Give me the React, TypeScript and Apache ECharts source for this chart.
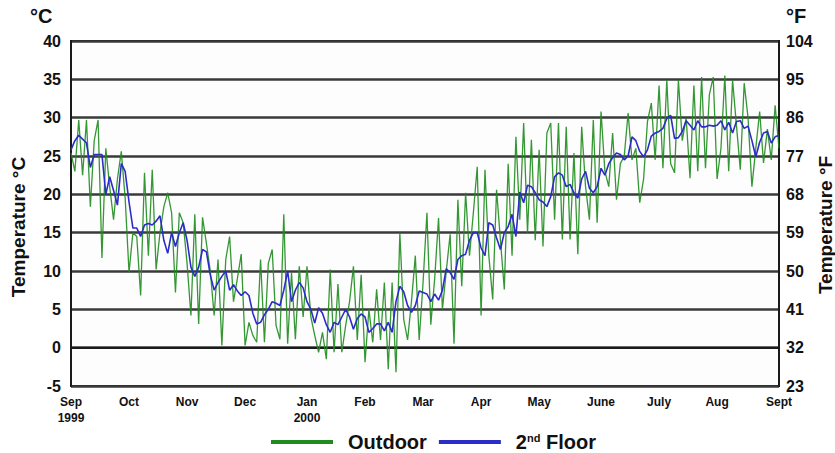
import React, { useEffect, useRef } from "react";
import * as echarts from "echarts";

// Month labels placed at the category index (2-day steps) where each month begins
const monthLabels: [number, string][] = [
  [0, "Sep\n1999"], [15, "Oct"], [30, "Nov"], [45, "Dec"], [61, "Jan\n2000"],
  [76, "Feb"], [91, "Mar"], [106, "Apr"], [121, "May"], [137, "June"],
  [152, "July"], [167, "Aug"], [183, "Sept"],
];

// Outdoor temperature (°C), every second day from 1 Sep 1999
const outdoor = [
  25.4, 23, 29.7, 22.5, 29.7, 18.4, 27, 29.7, 11.7, 26,
  21, 16.7, 22, 25.6, 19.5, 9.8, 15, 14.5, 6.8, 22.8,
  12, 23.2, 10.2, 15, 18.4, 20.2, 17.6, 7.2, 17.6, 16.3,
  11, 4.2, 17.4, 3.1, 17, 13.6, 10, 4.2, 11.5, 0.3,
  11.5, 14.5, 6, 9, 12.2, 0.3, 3.3, 1.6, 0.7, 11.5,
  0.7, 11, 12.8, 2.9, 1.1, 17.4, 0.5, 9.8, 1.1, 10.6,
  4, 10.6, 4, 1.6, -0.6, 2, -1.5, 10.2, -0.6, 8.3,
  -0.6, 2.9, 6, 10.6, 1, 9.5, -1.9, 5, 0.7, 7.6,
  1, 8.5, -2.8, 8.5, -3.2, 15, 3.7, 1, 6, 12,
  1, 8.5, 17.6, 3, 9, 16.9, 5, 10, 14.8, 0.5,
  19.3, 8, 20.2, 12, 17.6, 23.6, 4.2, 23.2, 12, 6.3,
  20.6, 14, 7.6, 24, 12, 27.5, 16.7, 29.3, 15, 27.1,
  14, 25.8, 13.2, 28, 29.3, 16.7, 29.3, 14.1, 28.8, 14.1,
  25.4, 12.2, 28.8, 21, 16.7, 29.7, 16.3, 30.8, 23, 21,
  28, 19.3, 24, 25, 30.6, 24.5, 26, 18.9, 22, 29.5,
  31.9, 24.5, 34.2, 23.4, 34.9, 24, 22.8, 34.9, 27, 30,
  22.1, 34.2, 23, 35.3, 23.4, 33, 35.3, 22, 26, 35.5,
  23, 34.9, 29, 23.2, 34.5, 30, 21, 26, 30.8, 24.1,
  28.5, 24.5, 31.6, 26,
];

// 2nd floor temperature (°C), every second day from 1 Sep 1999
const secondFloor = [
  25.8, 27, 27.7, 27.2, 26.7, 23.5, 25.2, 25.2, 25.2, 20,
  22.3, 20.5, 18.6, 24, 23, 19, 15.6, 15.6, 14.5, 16,
  16.2, 16, 16.5, 17.2, 14, 12.3, 15, 13.2, 15, 16.3,
  14, 10.5, 9.3, 10.5, 12.8, 12.5, 9.5, 7.5, 8.5, 9.3,
  10, 7.5, 8.2, 7.4, 6.8, 7.3, 6.8, 4.5, 3.1, 3.3,
  4.3, 5, 6, 5.8, 5.5, 7.5, 10, 6, 7.5, 8.5,
  7.8, 6, 5, 3.2, 5.2, 4.5, 3, 2, 3.3, 3,
  4, 5, 4, 2.4, 3.8, 4.4, 4, 2, 2.5, 3.1,
  3.1, 2.2, 3.3, 2, 6, 8, 7.3, 5.5, 4.6, 5.5,
  7.4, 7.2, 7, 6, 7, 6.2, 7.5, 10.3, 9.8, 8.9,
  11.5, 12, 12.2, 14, 15, 15, 13, 12, 16.3, 16,
  14.3, 12.8, 15, 15.8, 17.4, 14.5, 20.3, 18.9, 21.2, 21,
  20.2, 19.3, 19, 18.4, 19.7, 22.3, 22.8, 22.5, 21, 21.3,
  20.2, 19.5, 22, 23, 20.8, 20.2, 21, 23.4, 22.5, 24,
  24.8, 25.4, 25.2, 24.5, 25, 27.5, 27, 25.6, 24.9, 25.8,
  27.6, 28, 28.2, 28.6, 29.9, 30.3, 27.3, 27.4, 28.2, 29.6,
  29, 28.4, 29.6, 28.8, 28.8, 29, 28.9, 29, 29.6, 28.4,
  29.4, 28, 29.5, 29.6, 28.6, 28.9, 27, 24.9, 26.8, 28,
  28.2, 26.7, 27.5, 27.7,
];

const FONT = "Liberation Sans, Arial, sans-serif";

export default function App() {
  const ref = useRef<HTMLDivElement>(null);

  useEffect(() => {
    if (!ref.current) return;
    const chart = echarts.init(ref.current, undefined, { renderer: "svg" });
    const labelMap: Record<number, string> = {};
    monthLabels.forEach(([i, s]) => (labelMap[i] = s));
    const categories = outdoor.map((_, i) => String(i));

    chart.setOption({
      animation: false,
      backgroundColor: "#ffffff",
      textStyle: { fontFamily: FONT },
      grid: {
        left: 71,
        right: 56,
        top: 41,
        bottom: 67,
        show: true,
        borderColor: "#1a1a1a",
        borderWidth: 2,
        backgroundColor: "#fdfdfd",
      },
      legend: {
        left: 266,
        top: 427,
        icon: "rect",
        itemWidth: 62,
        itemHeight: 4,
        itemGap: 12,
        data: ["Outdoor", "2nd Floor"],
        formatter: (name: string) =>
          name === "2nd Floor" ? "2{sup|nd} Floor" : name,
        textStyle: {
          fontFamily: FONT,
          fontSize: 20,
          fontWeight: "bold",
          color: "#111",
          padding: [0, 0, 0, 10],
          rich: {
            sup: {
              fontFamily: FONT,
              fontSize: 11,
              fontWeight: "bold",
              color: "#111",
              verticalAlign: "top",
              padding: [0, 0, 8, 0],
            },
          },
        },
      },
      xAxis: {
        type: "category",
        data: categories,
        boundaryGap: false,
        axisLine: { lineStyle: { color: "#1a1a1a", width: 2 } },
        axisTick: { show: false },
        splitLine: { show: false },
        axisLabel: {
          interval: (index: number) => labelMap[index] !== undefined,
          formatter: (_v: string, index: number) => labelMap[index] ?? "",
          fontFamily: FONT,
          fontSize: 12,
          fontWeight: "bold",
          color: "#111",
          lineHeight: 16,
          margin: 8,
        },
      },
      yAxis: [
        {
          type: "value",
          min: -5,
          max: 40,
          interval: 5,
          position: "left",
          axisLine: { show: true, lineStyle: { color: "#1a1a1a", width: 2 } },
          axisTick: { show: false },
          splitLine: { show: true, lineStyle: { color: "#3a3a3a", width: 2.5 } },
          axisLabel: {
            fontFamily: FONT,
            fontSize: 16,
            fontWeight: "bold",
            color: "#111",
            margin: 10,
          },
        },
        {
          type: "value",
          min: -5,
          max: 40,
          interval: 5,
          position: "right",
          axisLine: { show: true, lineStyle: { color: "#1a1a1a", width: 2 } },
          axisTick: { show: false },
          splitLine: { show: false },
          axisLabel: {
            fontFamily: FONT,
            fontSize: 16,
            fontWeight: "bold",
            color: "#111",
            margin: 7,
            formatter: (v: number) => String(Math.round((v * 9) / 5 + 32)),
          },
        },
      ],
      graphic: [
        {
          type: "text",
          left: 30,
          top: 6,
          style: { text: "°C", font: `bold 20px ${FONT}`, fill: "#111" },
        },
        {
          type: "text",
          left: 786,
          top: 6,
          style: { text: "°F", font: `bold 20px ${FONT}`, fill: "#111" },
        },
        {
          type: "text",
          x: 18,
          y: 227,
          rotation: Math.PI / 2,
          style: {
            text: "Temperature °C",
            font: `bold 19px ${FONT}`,
            fill: "#111",
            align: "center",
            verticalAlign: "middle",
          },
        },
        {
          type: "text",
          x: 825,
          y: 225,
          rotation: Math.PI / 2,
          style: {
            text: "Temperature °F",
            font: `bold 19px ${FONT}`,
            fill: "#111",
            align: "center",
            verticalAlign: "middle",
          },
        },
      ],
      series: [
        {
          name: "Outdoor",
          type: "line",
          data: outdoor,
          yAxisIndex: 0,
          symbol: "none",
          color: "#1e8c1e",
          lineStyle: { color: "#1e8c1e", width: 1.3, opacity: 0.9 },
          z: 2,
        },
        {
          name: "2nd Floor",
          type: "line",
          data: secondFloor,
          yAxisIndex: 0,
          symbol: "none",
          color: "#2c2cc8",
          lineStyle: { color: "#2c2cc8", width: 1.6 },
          z: 3,
        },
      ],
    });

    return () => chart.dispose();
  }, []);

  return <div ref={ref} style={{ width: 835, height: 453, position: "absolute", left: 0, top: 0 }} />;
}
